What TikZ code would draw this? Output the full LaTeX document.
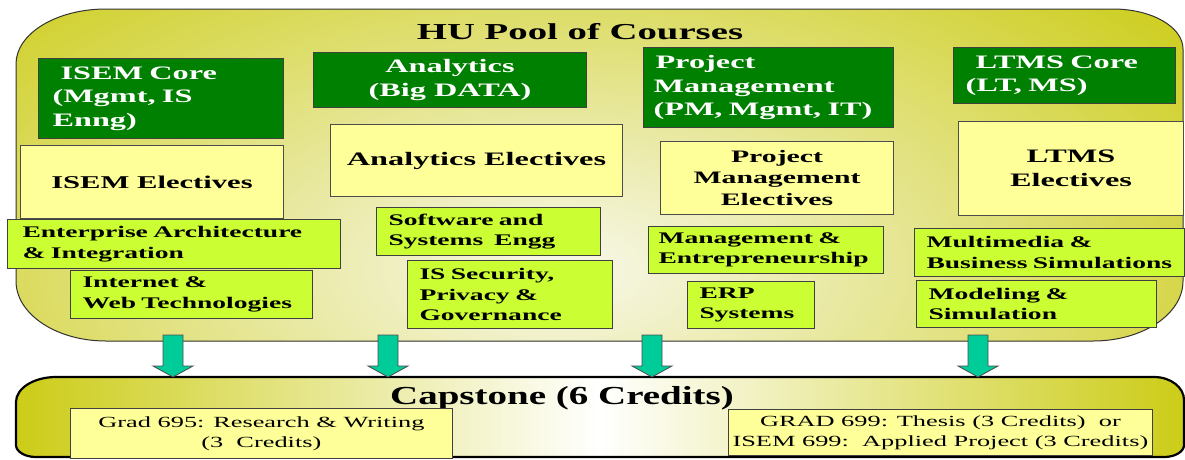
\documentclass[tikz,border=0pt]{standalone}
\usepackage{fontspec}
\setmainfont{Liberation Serif}[FakeStretch=1.7]
\newfontfamily\capfont{Liberation Serif}[FakeStretch=1.5]
\definecolor{coregreen}{RGB}{0,128,0}
\definecolor{electyellow}{RGB}{255,255,153}
\definecolor{courselime}{RGB}{204,255,51}
\definecolor{arrowteal}{RGB}{0,204,153}
\definecolor{poololive}{RGB}{204,204,24}
\definecolor{poollight}{RGB}{248,248,236}
\tikzset{
  core/.style={draw=black!75,line width=1pt,fill=coregreen,text=white,anchor=north west,inner ysep=0pt,font=\fontsize{19}{23.5}\selectfont\bfseries},
  elective/.style={draw=black!70,line width=1pt,fill=electyellow,anchor=north west,align=center,inner ysep=0pt},
  course/.style={draw=black!75,line width=1pt,fill=courselime,anchor=north west,align=left,inner xsep=12pt,inner ysep=0pt,font=\fontsize{16.2}{20.5}\selectfont\bfseries},
  capbox/.style={draw=black!75,line width=0.8pt,fill=electyellow,anchor=north west,align=center,inner ysep=0pt,font=\fontsize{15.5}{20}\selectfont},
  blockarrow/.style={draw=black!70,line width=0.8pt,fill=arrowteal}
}
\begin{document}
\begin{tikzpicture}[x=1pt,y=-1pt]
\useasboundingbox (0,0) rectangle (1185,459);
% pool of courses
\draw[black!80,line width=1pt,fill=poololive,path picture={\shade[inner color=poollight,outer color=poololive] (560,270) ellipse [x radius=820,y radius=420];}]
  (16,64) arc[start angle=180,end angle=270,x radius=90,y radius=55] -- (1113,9)
  arc[start angle=270,end angle=360,x radius=70,y radius=40] -- (1183,281)
  arc[start angle=0,end angle=90,x radius=90,y radius=60] -- (106,341)
  arc[start angle=90,end angle=180,x radius=90,y radius=60] -- cycle;
\node[anchor=base,font=\fontsize{22.8}{26}\selectfont\bfseries] (pooltitle) at (580,39) {HU Pool of Courses};
\node[core,minimum width=245,minimum height=80,inner xsep=14pt,text width=217pt,align=left] (isemcore) at (38,58) {\hspace*{8pt}ISEM Core\\(Mgmt, IS\\Enng)};
\node[core,minimum width=273,minimum height=55,align=center] (bigdata) at (313,52) {Analytics\\(Big DATA)};
\node[core,minimum width=250,minimum height=80,inner xsep=10pt,text width=230pt,align=left] (pmcore) at (643,47) {\hspace*{2pt}Project\\Management\\(PM,~Mgmt,~IT)};
\node[core,minimum width=222,minimum height=56,inner xsep=12pt,text width=198pt,align=left] (ltmscore) at (953,47) {\hspace*{10pt}LTMS Core\\(LT, MS)};
\node[elective,minimum width=263,minimum height=73,font=\fontsize{18}{22}\selectfont\bfseries] (isemelect) at (20,145) {ISEM Electives};
\node[elective,minimum width=292,minimum height=72,font=\fontsize{19}{22}\selectfont\bfseries] (bigdataelect) at (330,124) {Analytics Electives};
\node[elective,minimum width=233,minimum height=73,font=\fontsize{17.5}{21.5}\selectfont\bfseries] (pmelect) at (660,141) {Project\\Management\\Electives};
\node[elective,minimum width=225,minimum height=94,font=\fontsize{19}{24}\selectfont\bfseries] (ltmselect) at (958,121) {LTMS\\Electives};
\node[course,minimum width=333,minimum height=49,inner xsep=15pt,text width=303pt] (entarch) at (7,219) {Enterprise Architecture\\\& Integration};
\node[course,minimum width=242,minimum height=48,text width=218pt] (webtech) at (70,270) {Internet \&\\Web~Technologies};
\node[course,minimum width=224,minimum height=48,text width=200pt] (softeng) at (376,207) {Software and\\Systems~~Engg};
\node[course,minimum width=205,minimum height=68,text width=181pt] (security) at (407,260) {IS Security,\\Privacy \&\\Governance};
\node[course,minimum width=235,minimum height=47,inner xsep=10pt,text width=215pt] (mgmtent) at (648,226) {Management \&\\Entrepreneurship};
\node[course,minimum width=127,minimum height=47,text width=103pt] (erp) at (687,281) {ERP\\Systems};
\node[course,minimum width=270,minimum height=48,text width=246pt] (multimedia) at (914,228) {Multimedia \&\\Business~Simulations};
\node[course,minimum width=240,minimum height=47,text width=216pt] (modeling) at (916,280) {Modeling \&\\Simulation};
% capstone
\draw[black,line width=2.2pt,left color=poololive,right color=poololive,middle color=white]
  (16,402) arc[start angle=180,end angle=270,x radius=40,y radius=25] -- (1154,377)
  arc[start angle=270,end angle=360,x radius=30,y radius=23] -- (1184,445)
  arc[start angle=0,end angle=90,x radius=20,y radius=12] -- (36,457)
  arc[start angle=90,end angle=180,x radius=20,y radius=12] -- cycle;
\node[anchor=base,font=\capfont\fontsize{26}{30}\selectfont\bfseries] (captitle) at (562,404) {Capstone (6 Credits)};
\node[capbox,minimum width=382,minimum height=50] (grad695) at (70,408) {Grad 695: Research \& Writing\\(3~~Credits)};
\node[capbox,minimum width=424,minimum height=46] (grad699) at (728,409) {GRAD 699: Thesis (3 Credits)~~or\\ISEM 699:~~Applied Project (3 Credits)};
% arrows down to the capstone
\draw[blockarrow] (163,335) -- ++(20,0) -- ++(0,31) -- ++(10,0) -- ++(-20,11) -- ++(-20,-11) -- ++(10,0) -- cycle;
\draw[blockarrow] (378,335) -- ++(20,0) -- ++(0,31) -- ++(10,0) -- ++(-20,11) -- ++(-20,-11) -- ++(10,0) -- cycle;
\draw[blockarrow] (642,335) -- ++(20,0) -- ++(0,31) -- ++(10,0) -- ++(-20,11) -- ++(-20,-11) -- ++(10,0) -- cycle;
\draw[blockarrow] (968,335) -- ++(20,0) -- ++(0,31) -- ++(10,0) -- ++(-20,11) -- ++(-20,-11) -- ++(10,0) -- cycle;
\end{tikzpicture}
\end{document}
